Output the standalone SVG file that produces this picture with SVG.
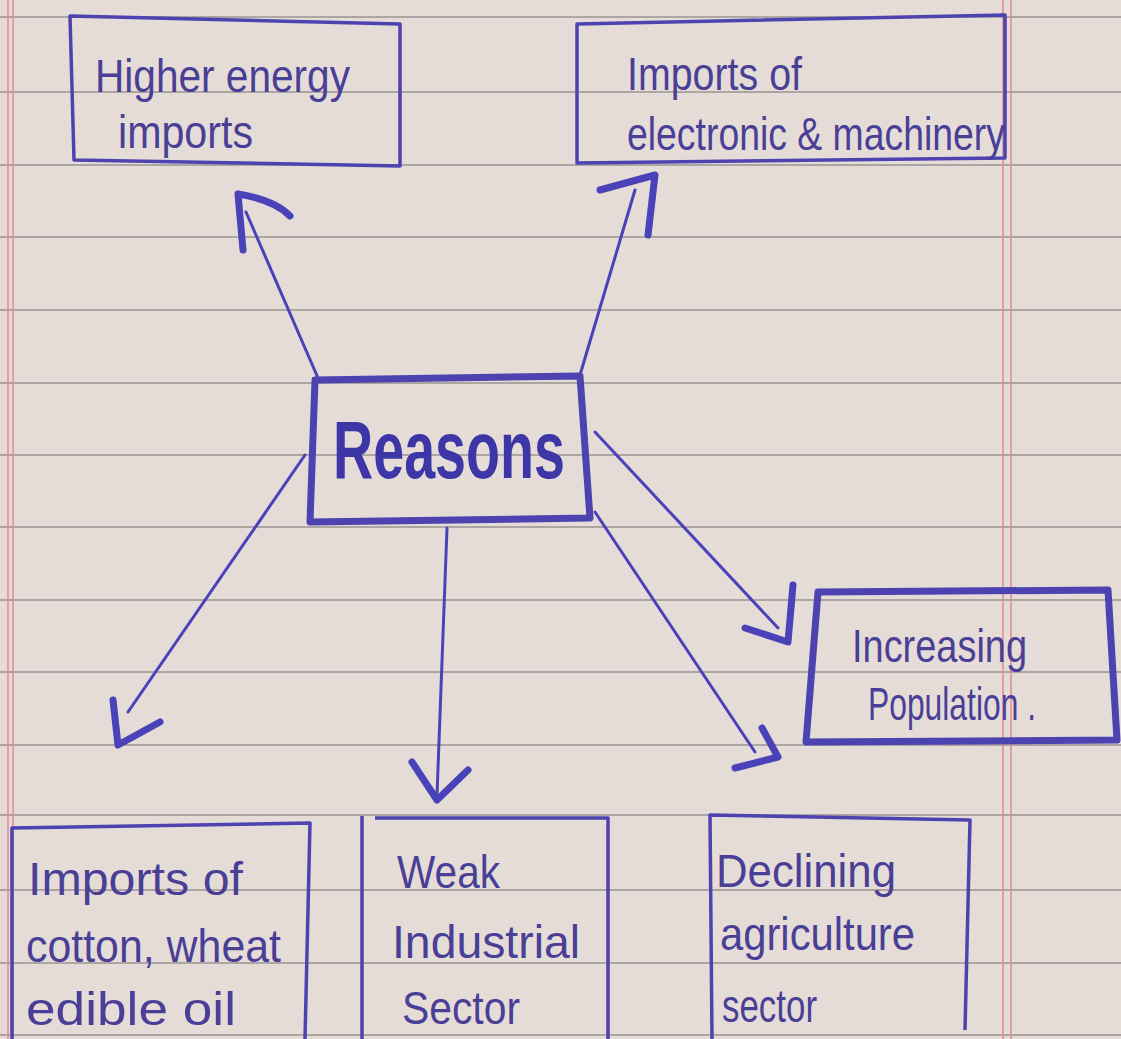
<svg xmlns="http://www.w3.org/2000/svg" width="1121" height="1039" viewBox="0 0 1121 1039">
<style>
.rule{stroke:#aca5a2;stroke-width:2;fill:none}
.margin{stroke:#e08a8f;stroke-width:1.5;fill:none}
.box{fill:none;stroke:#4c43b0;stroke-width:3.5;stroke-linejoin:round}
.thick{stroke-width:7}
.conn{fill:none;stroke:#4a42b8;stroke-width:3;stroke-linecap:round}
.head{fill:none;stroke:#4a42b8;stroke-width:7;stroke-linecap:round;stroke-linejoin:round}
.t{font-family:"Liberation Sans Narrow","Liberation Sans",sans-serif;font-size:46px;fill:#4a3f96}
.big{font-family:"Liberation Sans Narrow","Liberation Sans",sans-serif;font-size:82px;font-weight:bold;fill:#3d36a6}
</style>
<rect width="1121" height="1039" fill="#e5dcd8"/>
<g id="paper">
<path class="rule" d="M0 17H1121M0 92H1121M0 165H1121M0 237H1121M0 310H1121M0 383H1121M0 455H1121M0 527H1121M0 600H1121M0 672H1121M0 745H1121M0 815H1121M0 890H1121M0 963H1121M0 1035H1121"/>
<path class="margin" d="M8 0V1039M13 0V1039M1003 0V1039M1011 0V1039"/>
</g>
<g id="connectors">
<path class="conn" d="M318 378L246 212"/>
<path class="head" d="M243 250L238 194Q275 200 290 216"/>
<path class="conn" d="M580 375L635 190"/>
<path class="head" d="M600 190L655 175L648 235"/>
<path class="conn" d="M305 455L128 712"/>
<path class="head" d="M113 700L118 745L160 722"/>
<path class="conn" d="M447 528L437 795"/>
<path class="head" d="M412 762L437 800L468 770"/>
<path class="conn" d="M595 432L778 628"/>
<path class="head" d="M793 585L788 642L745 628"/>
<path class="conn" d="M595 512L755 752"/>
<path class="head" d="M762 728L778 757L735 768"/>
</g>
<g id="node-energy">
<path class="box" d="M70 16L400 24L400 166L74 160Z"/>
<text class="t" x="95" y="92" textLength="255" lengthAdjust="spacingAndGlyphs">Higher energy</text>
<text class="t" x="118" y="148" textLength="135" lengthAdjust="spacingAndGlyphs">imports</text>
</g>
<g id="node-electronic">
<path class="box" d="M577 24L1005 15L1005 158L577 163Z"/>
<text class="t" x="627" y="90" textLength="175" lengthAdjust="spacingAndGlyphs">Imports of</text>
<text class="t" x="627" y="150" textLength="378" lengthAdjust="spacingAndGlyphs">electronic &amp; machinery</text>
</g>
<g id="node-reasons">
<path class="box thick" d="M315 380L580 376L590 518L310 522Z"/>
<text class="big" x="333" y="478" textLength="232" lengthAdjust="spacingAndGlyphs">Reasons</text>
</g>
<g id="node-population">
<path class="box thick" d="M818 592L1108 590L1117 740L806 742Z"/>
<text class="t" x="852" y="662" textLength="175" lengthAdjust="spacingAndGlyphs">Increasing</text>
<text class="t" x="868" y="720" textLength="168" lengthAdjust="spacingAndGlyphs">Population .</text>
</g>
<g id="node-cotton">
<path class="box" d="M12 1039L12 828L310 823L305 1039"/>
<text class="t" x="28" y="895" textLength="215" lengthAdjust="spacingAndGlyphs">Imports of</text>
<text class="t" x="26" y="962" textLength="255" lengthAdjust="spacingAndGlyphs">cotton, wheat</text>
<text class="t" x="26" y="1025" textLength="210" lengthAdjust="spacingAndGlyphs">edible oil</text>
</g>
<g id="node-industrial">
<path class="box" d="M362 816L362 1039M375 818L608 818L608 1039"/>
<text class="t" x="397" y="888" textLength="103" lengthAdjust="spacingAndGlyphs">Weak</text>
<text class="t" x="392" y="958" textLength="188" lengthAdjust="spacingAndGlyphs">Industrial</text>
<text class="t" x="402" y="1024" textLength="118" lengthAdjust="spacingAndGlyphs">Sector</text>
</g>
<g id="node-agriculture">
<path class="box" d="M712 1039L710 815L970 820L965 1030"/>
<text class="t" x="716" y="887" textLength="180" lengthAdjust="spacingAndGlyphs">Declining</text>
<text class="t" x="720" y="950" textLength="195" lengthAdjust="spacingAndGlyphs">agriculture</text>
<text class="t" x="722" y="1022" textLength="95" lengthAdjust="spacingAndGlyphs">sector</text>
</g>
</svg>
